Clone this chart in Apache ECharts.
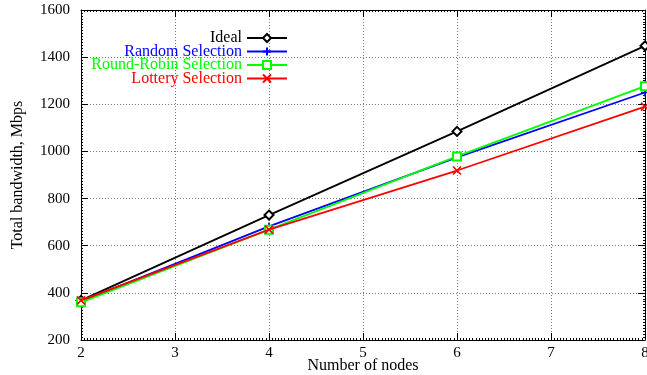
<!DOCTYPE html>
<html>
<head>
<meta charset="utf-8">
<script src="https://cdn.jsdelivr.net/npm/echarts@6/dist/echarts.min.js"></script>
<style>
  html, body { margin: 0; padding: 0; background: #fff; }
  #chart { width: 647px; height: 375px; }
</style>
</head>
<body>
<div id="chart"></div>
<script>
// data
const nodes = [2, 4, 6, 8]
const ideal = [368, 730, 1085, 1448]
const randomSel = [364, 682, 975, 1250]
const roundRobin = [360, 668, 979, 1277]
const lottery = [368, 668, 919, 1190]
const seriesNames = ['Ideal', 'Random Selection', 'Round-Robin Selection', 'Lottery Selection']

const font = 'Liberation Serif'
const plusPath = 'path://M0,5L10,5M5,0L5,10'
const crossPath = 'path://M0,0L10,10M10,0L0,10'

const pairs = vals => nodes.map((n, i) => [n, vals[i]])

// shared axis look (gnuplot style: ticks inside, dense minor ticks, mirrored)
function axisBase(extra) {
  return Object.assign({
    type: 'value',
    axisLine: { show: true, onZero: false, lineStyle: { color: '#000', width: 1 } },
    axisTick: { show: true, inside: true, length: 7, lineStyle: { color: '#000', width: 1 } },
    minorTick: { show: true, length: 2, lineStyle: { color: '#000', width: 1 } },
    splitLine: { show: false },
    axisLabel: { show: false }
  }, extra)
}

const chart = echarts.init(document.getElementById('chart'))

function lineSeries(name, vals, color, symbol, size, z) {
  return {
    name: name,
    type: 'line',
    data: pairs(vals),
    symbol: symbol,
    symbolSize: size,
    showAllSymbol: true,
    z: z,
    lineStyle: { color: color, width: 1.8 },
    itemStyle: { color: color, borderColor: color, borderWidth: 1.6 }
  }
}

const option = {
  animation: false,
  backgroundColor: '#fff',
  grid: { left: 81, right: 2, top: 10, bottom: 35, outerBoundsMode: 'none', containLabel: false },
  legend: {
    orient: 'vertical',
    align: 'right',
    right: 359,
    top: 30,
    padding: 0,
    itemWidth: 40,
    itemHeight: 10,
    itemGap: -2.5,
    textStyle: { fontFamily: font, fontSize: 16, lineHeight: 16 },
    data: [
      { name: seriesNames[0], textStyle: { color: '#000000' } },
      { name: seriesNames[1], textStyle: { color: '#0000ff' } },
      { name: seriesNames[2], textStyle: { color: '#00ff00' } },
      { name: seriesNames[3], textStyle: { color: '#ff0000' } }
    ]
  },
  xAxis: [
    axisBase({
      position: 'bottom',
      min: 2, max: 8, interval: 1,
      minorTick: { show: true, splitNumber: 30, length: 2, lineStyle: { color: '#000', width: 1 } },
      splitLine: { show: true, lineStyle: { color: '#777', width: 1, type: [1, 2] } },
      axisLabel: { show: true, color: '#000', fontFamily: font, fontSize: 15, margin: 6 },
      name: 'Number of nodes',
      nameLocation: 'middle',
      nameGap: 18,
      nameMoveOverlap: false,
      nameTextStyle: { color: '#000', fontFamily: font, fontSize: 16 }
    }),
    axisBase({
      position: 'top',
      min: 2, max: 8, interval: 1,
      minorTick: { show: true, splitNumber: 30, length: 2, lineStyle: { color: '#000', width: 1 } }
    })
  ],
  yAxis: [
    axisBase({
      position: 'left',
      min: 200, max: 1600, interval: 200,
      minorTick: { show: true, splitNumber: 16, length: 2, lineStyle: { color: '#000', width: 1 } },
      splitLine: { show: true, lineStyle: { color: '#777', width: 1, type: [1, 2] } },
      axisLabel: { show: true, color: '#000', fontFamily: font, fontSize: 15, margin: 11, formatter: v => String(v) },
      name: 'Total bandwidth, Mbps',
      nameLocation: 'middle',
      nameGap: 55,
      nameMoveOverlap: false,
      nameTextStyle: { color: '#000', fontFamily: font, fontSize: 16 }
    }),
    axisBase({
      position: 'right',
      min: 200, max: 1600, interval: 200,
      minorTick: { show: true, splitNumber: 16, length: 2, lineStyle: { color: '#000', width: 1 } }
    })
  ],
  series: [
    lineSeries(seriesNames[0], ideal, '#000000', 'emptyDiamond', 9, 2),
    lineSeries(seriesNames[1], randomSel, '#0000ff', plusPath, 8, 3),
    lineSeries(seriesNames[2], roundRobin, '#00ff00', 'emptyRect', 8, 4),
    lineSeries(seriesNames[3], lottery, '#ff0000', crossPath, 8, 5)
  ]
}

chart.setOption(option)
</script>
</body>
</html>
